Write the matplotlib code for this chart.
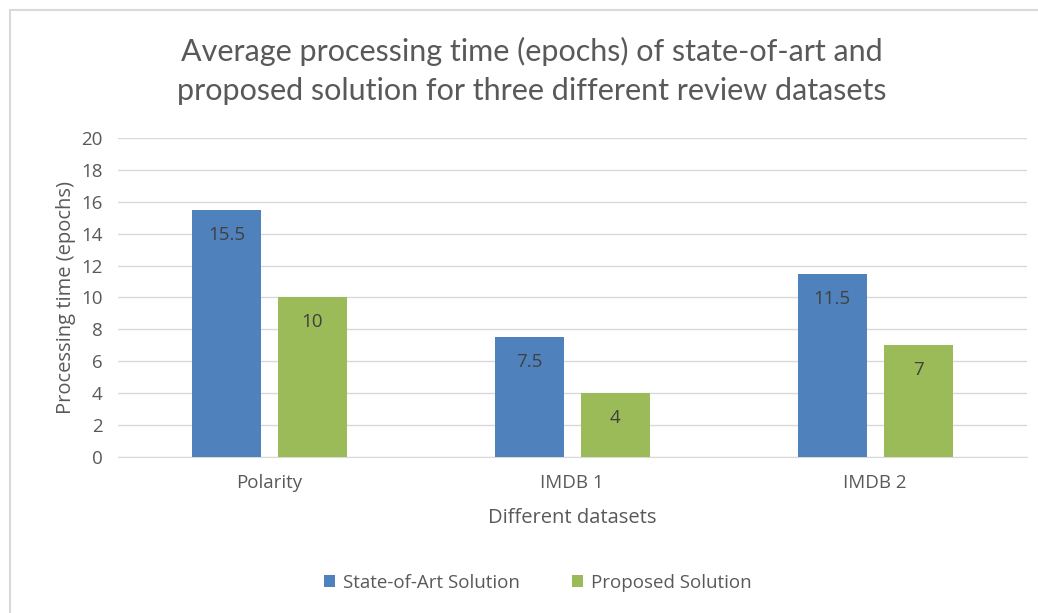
import matplotlib.pyplot as plt
import numpy as np
from matplotlib.patches import Rectangle

categories = ['Polarity', 'IMDB 1', 'IMDB 2']
state_of_art = [15.5, 7.5, 11.5]
proposed = [10, 4, 7]
series_names = ['State-of-Art Solution', 'Proposed Solution']
yticks = [0, 2, 4, 6, 8, 10, 12, 14, 16, 18, 20]

blue = '#4F81BD'
green = '#9BBB59'
text_col = '#595959'

plt.rcParams['font.family'] = ['Open Sans', 'DejaVu Sans']

fig = plt.figure(figsize=(10.38, 6.13), dpi=100)
ax = fig.add_axes([0.1137, 0.2545, 0.8753, 0.5204])

# outer chart frame
fig.patches.append(Rectangle((10 / 1038, -0.01), 1.02, 1 - 10 / 613 + 0.01,
                             transform=fig.transFigure, fill=False,
                             edgecolor='#D9D9D9', linewidth=1.5))

x = np.arange(len(categories))
w = 0.227
off = 0.142
b1 = ax.bar(x - off, state_of_art, w, color=blue, label=series_names[0], zorder=3)
b2 = ax.bar(x + off, proposed, w, color=green, label=series_names[1], zorder=3)

for bars, vals in [(b1, state_of_art), (b2, proposed)]:
    for rect, v in zip(bars, vals):
        ax.annotate(f'{v:g}', (rect.get_x() + rect.get_width() / 2, v),
                    xytext=(0, -18), textcoords='offset points',
                    ha='center', va='center', fontsize=13.5, color='#404040', zorder=4)

ax.set_xlim(-0.5, 2.5)
ax.set_ylim(0, 20)
ax.set_yticks(yticks)
ax.set_xticks(x)
ax.set_xticklabels(categories)
ax.tick_params(axis='y', length=0, labelsize=13.5, colors=text_col, pad=11)
ax.tick_params(axis='x', length=0, labelsize=13.5, colors=text_col, pad=12)
ax.grid(axis='y', color='#D9D9D9', linewidth=1, zorder=0)
for s in ['top', 'right', 'left']:
    ax.spines[s].set_visible(False)
ax.spines['bottom'].set_color('#D9D9D9')

ax.set_ylabel('Processing time (epochs)', fontsize=14.5, color=text_col, labelpad=4)
ax.set_xlabel('Different datasets', fontsize=14.5, color=text_col, labelpad=12)

fig.text(0.512, 0.884, 'Average processing time (epochs) of state-of-art and\n'
         'proposed solution for three different review datasets',
         ha='center', va='center', fontsize=22, color=text_col,
         family=['Lato', 'DejaVu Sans'], linespacing=1.45)

fig.legend(loc='center', bbox_to_anchor=(0.518, 0.049), ncol=2, frameon=False,
           fontsize=13.5, handlelength=0.6, handleheight=0.6, columnspacing=2.8,
           handletextpad=0.4, labelcolor=text_col)

fig.savefig('out.png', dpi=100)
